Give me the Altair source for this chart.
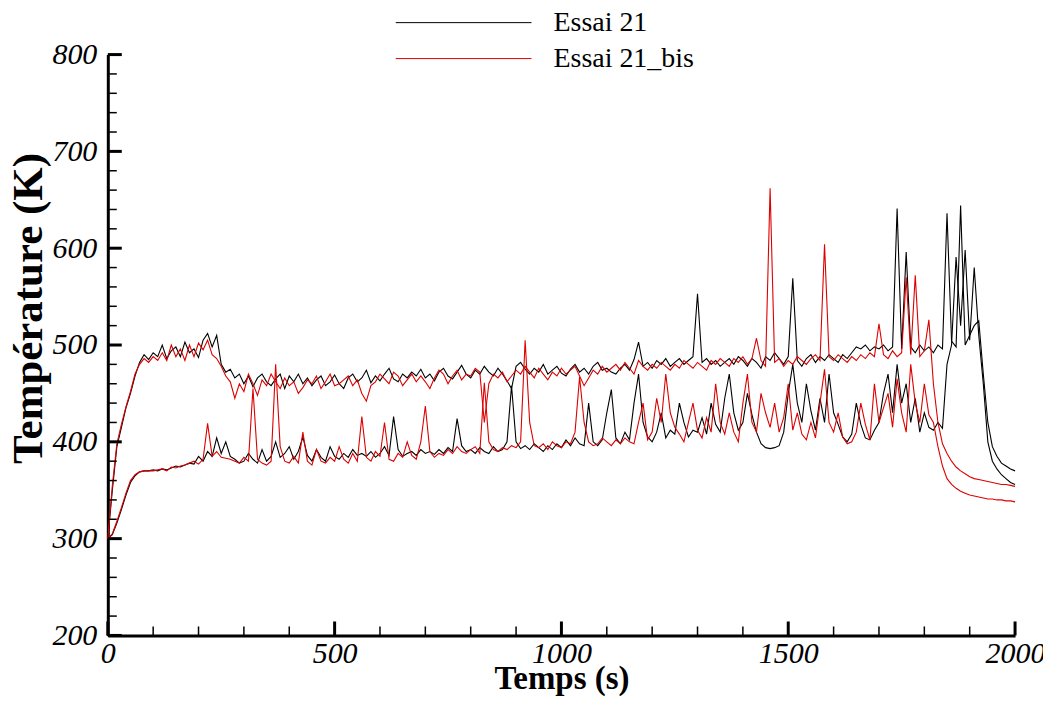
import altair as alt
import pandas as pd

# ---- data ----
time_s = list(range(0, 2001, 10))

essai21_haut = [
    300, 350, 395, 415, 435, 450, 468, 482, 490, 485,
    492, 488, 500, 486, 494, 498, 488, 503, 492, 496,
    487, 505, 512, 498, 510, 480, 472, 475, 466, 470,
    460, 468, 457, 466, 470, 462, 458, 465, 470, 455,
    468, 462, 470, 460, 466, 458, 464, 468, 458, 462,
    469, 460, 455, 466, 470, 462, 466, 474, 461, 468,
    463, 470, 476, 465, 462, 470, 466, 472, 468, 475,
    466, 470, 463, 472, 476, 468, 465, 472, 479, 470,
    466, 474, 470, 478, 472, 468, 476, 470, 463, 455,
    478, 482, 475, 470, 476, 472, 480, 470, 474, 478,
    471, 468, 475, 480, 472, 476, 470, 478, 482, 474,
    476, 472, 470, 476, 480, 474, 485, 503, 478, 482,
    476, 484, 480, 486, 478, 482, 486, 480, 484, 488,
    553, 482, 486, 480, 484, 478, 482, 486, 480, 488,
    484, 478, 486, 482, 476, 488, 484, 492, 486, 480,
    488, 569, 484, 478, 486, 490, 482, 488, 484, 490,
    486, 482, 490, 486, 492, 498, 496, 500, 494, 498,
    496, 500, 494, 498, 641, 496, 596, 498, 492, 500,
    494, 498, 492, 500, 496, 636, 504, 498, 644, 500,
    510, 520, 525, 470, 420, 395, 385, 378, 375, 372,
    370,
]

essai21_bas = [
    300, 304, 316, 330, 345, 358, 365, 369, 370, 370,
    371, 370, 372, 371, 373, 375, 374, 376, 378, 377,
    385, 380, 390, 385, 404, 388, 400, 385, 382, 378,
    380, 388, 382, 378, 392, 380, 385, 400, 384, 388,
    395, 382, 390, 405, 386, 380, 392, 384, 380, 395,
    385, 382, 388, 384, 392, 386, 388, 385, 390, 384,
    388, 395, 386, 426, 392, 385, 388, 390, 386, 392,
    388, 390, 387, 392, 388, 394, 390, 424, 396, 390,
    392, 388, 394, 390, 388, 395, 390, 392, 400, 458,
    400, 393, 396, 392, 398, 394, 390, 396, 392, 398,
    394, 402, 396, 404, 398, 396, 440, 400, 396, 402,
    430, 454, 404, 398, 410, 402, 440, 470, 420, 405,
    400, 410, 430, 404, 412, 408, 440, 420, 405, 412,
    410, 425, 408, 440, 418, 410, 445, 470, 430, 412,
    420, 450, 428, 410, 398, 394, 393, 394, 396, 410,
    450, 480, 440, 420, 460, 432, 412, 445, 420, 470,
    430, 418, 405, 400, 408, 440, 418, 404, 402, 412,
    420, 450, 470, 430, 480, 440, 460, 420, 445, 410,
    430, 415, 412, 420, 414, 480, 500, 591, 520, 598,
    505, 580, 510, 460, 400, 380, 372, 366, 362, 358,
    356,
]

essai21bis_haut = [
    300, 355, 398, 418, 436, 452, 470, 480, 486, 482,
    488, 484, 492, 484, 500, 488, 496, 484, 500, 488,
    502, 495, 505, 490, 486, 478, 468, 462, 445, 460,
    452, 470, 460, 448, 464, 458, 470, 462, 455, 466,
    458, 462, 450, 456, 464, 460, 468, 455, 462, 470,
    458, 460, 464, 468, 458, 464, 450, 442, 458, 462,
    470, 465, 460, 472, 468, 458, 464, 470, 462, 468,
    462, 455, 466, 474, 470, 460, 468, 474, 464, 470,
    468, 476, 472, 420, 460, 470, 466, 472, 462, 468,
    474, 470, 478, 472, 466, 476, 470, 464, 472, 468,
    476, 470, 474, 478, 468, 458, 466, 474, 470, 478,
    472, 476, 480, 474, 482, 476, 470, 484, 478, 474,
    480, 476, 482, 478, 474, 480, 476, 484, 480, 476,
    482, 478, 474, 484, 480, 486, 482, 478, 486, 482,
    488, 480, 486, 507, 484, 478, 662, 482, 486, 478,
    484, 480, 488, 484, 480, 486, 490, 484, 604, 488,
    484, 490, 486, 482, 488, 484, 490, 486, 492, 488,
    522, 490, 486, 494, 488, 492, 570, 490, 572, 488,
    494, 526, 460, 420, 398, 388, 380, 374, 370, 367,
    364, 362, 361, 360, 359, 358, 357, 356, 356, 355,
    354,
]

essai21bis_bas = [
    300, 305, 318, 332, 347, 360, 366, 369, 370, 370,
    370, 371, 372, 370, 374, 373, 375, 376, 378, 380,
    377, 382, 419, 385, 390, 384, 383, 382, 380, 378,
    384, 380, 455, 382, 378, 376, 380, 480, 395, 380,
    378, 385, 378, 410, 380, 376, 392, 380, 378, 384,
    380, 395, 382, 378, 388, 380, 426, 384, 380, 390,
    385, 420, 382, 380, 388, 384, 400, 386, 382, 400,
    437, 390, 384, 388, 386, 392, 388, 395, 390, 388,
    392, 395, 388, 461, 400, 392, 390, 394, 392, 396,
    394, 400, 505, 420, 396, 394, 398, 392, 400, 396,
    394, 400, 398, 410, 467, 420, 400, 396, 398, 404,
    400, 396, 402, 398, 404, 400, 398, 420, 440, 402,
    410, 445, 420, 470, 430, 415, 408, 400, 420, 440,
    412, 404, 425, 410, 460, 420, 408, 430, 410, 400,
    440, 470, 420, 410, 450, 430, 415, 440, 410, 425,
    460, 412, 430, 408, 402, 420, 404, 440, 475, 420,
    410, 430, 405, 398, 400, 410, 440, 418, 402, 460,
    420, 435, 450, 415, 465, 430, 410, 480, 440, 420,
    460, 428, 420, 395, 375, 362, 356, 352, 349, 347,
    345, 344, 343, 342, 341, 341, 340, 340, 339, 339,
    338,
]

essais = ["Essai 21", "Essai 21_bis"]
couleurs = ["#000000", "#dd0000"]

x_major = [0, 500, 1000, 1500, 2000]
x_minor = [100, 200, 300, 400, 600, 700, 800, 900,
           1100, 1200, 1300, 1400, 1600, 1700, 1800, 1900]
y_major = [200, 300, 400, 500, 600, 700, 800]
y_minor = [220, 240, 260, 280, 320, 340, 360, 380, 420, 440, 460, 480,
           520, 540, 560, 580, 620, 640, 660, 680, 720, 740, 760, 780]

# ---- build table ----
rows = []
for essai, capteur, vals in [
    ("Essai 21", "A", essai21_haut),
    ("Essai 21", "B", essai21_bas),
    ("Essai 21_bis", "C", essai21bis_haut),
    ("Essai 21_bis", "D", essai21bis_bas),
]:
    for t, v in zip(time_s, vals):
        rows.append({"t": t, "T": v, "essai": essai, "capteur": capteur})
df = pd.DataFrame(rows)

W, H = 909, 582
FONT = "Liberation Serif"
xscale = alt.Scale(domain=[0, 2000], nice=False, zero=False)
yscale = alt.Scale(domain=[200, 800], nice=False, zero=False)

x_axis = alt.Axis(
    values=x_major, format="d", title="Temps (s)", ticks=False, grid=False,
    labelFlush=False, labelOverlap=False, labelPadding=3,
    labelFont=FONT, labelFontSize=30, labelFontStyle="italic",
    labelColor="black", domainColor="black", domainWidth=3,
    titleFont=FONT, titleFontSize=33, titleFontWeight="bold",
    titleColor="black", titleBaseline="alphabetic",
    titleX=W / 2, titleY=53, titleAlign="center")
y_axis = alt.Axis(
    values=y_major, format="d", title="Température (K)", ticks=False,
    grid=False, labelPadding=11, labelFont=FONT, labelFontSize=30,
    labelFontStyle="italic", labelColor="black",
    domainColor="black", domainWidth=3,
    titleFont=FONT, titleFontSize=43, titleFontWeight="bold",
    titleColor="black", titleAngle=270, titleBaseline="alphabetic",
    titleAlign="center", titleX=-66, titleY=254)

lines = alt.Chart(df).mark_line(strokeWidth=1.1).encode(
    x=alt.X("t:Q", scale=xscale, axis=x_axis),
    y=alt.Y("T:Q", scale=yscale, axis=y_axis),
    color=alt.Color("essai:N", scale=alt.Scale(domain=essais, range=couleurs),
                    legend=alt.Legend(
                        title=None, orient="none", legendX=342.5, legendY=-46,
                        symbolType="M-10,0H10", symbolSize=185,
                        symbolStrokeWidth=1, labelFont=FONT, labelFontSize=28,
                        labelColor="black", labelOffset=76, rowPadding=8,
                        padding=0, labelLimit=0)),
    detail="capteur:N",
)

xmaj = alt.Chart(pd.DataFrame({"v": x_major})).mark_rule(
    strokeWidth=3, color="black").encode(
    x=alt.X("v:Q", scale=xscale, axis=x_axis),
    y=alt.value(H), y2=alt.value(H - 14))
xmin = alt.Chart(pd.DataFrame({"v": x_minor})).mark_rule(
    strokeWidth=1.5, color="black").encode(
    x=alt.X("v:Q", scale=xscale, axis=x_axis),
    y=alt.value(H), y2=alt.value(H - 9))
ymaj = alt.Chart(pd.DataFrame({"v": y_major})).mark_rule(
    strokeWidth=3, color="black").encode(
    y=alt.Y("v:Q", scale=yscale, axis=y_axis),
    x=alt.value(0), x2=alt.value(14))
ymin = alt.Chart(pd.DataFrame({"v": y_minor})).mark_rule(
    strokeWidth=1.5, color="black").encode(
    y=alt.Y("v:Q", scale=yscale, axis=y_axis),
    x=alt.value(0), x2=alt.value(9))

chart = alt.layer(lines, xmaj, xmin, ymaj, ymin).properties(
    width=W, height=H,
    padding={"left": 100, "top": 46, "right": 28, "bottom": 60},
    autosize=alt.AutoSizeParams(type="none"),
    background="white",
).configure_view(stroke=None)

chart.save("out.html", embed_options={"renderer": "svg", "actions": False})
